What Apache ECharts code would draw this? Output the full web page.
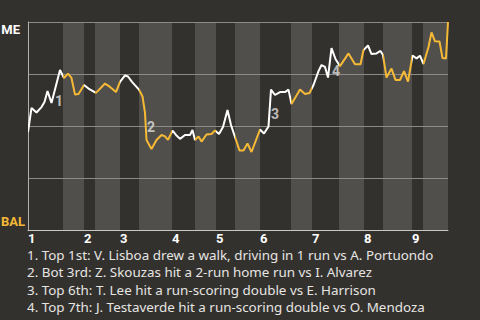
<!DOCTYPE html>
<html>
<head>
<meta charset="utf-8">
<script src="https://cdn.jsdelivr.net/npm/echarts@6/dist/echarts.min.js"></script>
<style>
html,body{margin:0;padding:0;background:#33312e;}
#chart{width:480px;height:320px;}
</style>
</head>
<body>
<div id="chart"></div>
<script>
// Game progress (x) and win probability for ME, percent (y)
var progress = [0,0.7,1.7,2.7,3.3,3.9,4.7,6.4,7.2,8.0,8.7,9.4,10.1,11.2,12.1,13.6,15.4,16.4,17.6,18.4,19.4,20.0,20.8,22.2,22.9,23.4,23.7,24.7,25.7,26.7,27.4,28.0,28.9,29.6,30.4,31.4,32.4,32.9,33.4,34.1,34.7,35.7,36.7,37.4,38.2,39.0,39.9,40.6,41.4,42.3,43.1,43.9,44.7,46.4,47.2,48.1,48.6,49.4,50.4,51.4,52.1,52.7,54.4,55.4,56.3,57.1,58.1,58.7,59.4,60.0,60.7,61.5,62.4,64.1,65.4,66.5,67.1,68.0,68.7,69.7,70.5,71.0,71.7,72.7,73.5,74.4,75.2,76.0,76.9,77.7,78.4,79.1,80.1,80.7,81.4,82.3,82.9,83.6,84];
var winProb = [47.1,58.7,56.5,59.1,61.5,66.8,61.1,76.9,73.1,75.2,73.1,65.1,65.4,69.7,68.0,65.9,70.4,68.8,66.3,71.2,74.3,73.8,71.2,67.5,64.2,56.3,43.3,38.9,43.3,45.7,45.0,43.3,47.8,45.7,43.8,45.7,45.7,48.1,43.3,45.0,42.5,45.9,46.2,47.8,46.2,49.5,57.7,50.5,44.7,38.2,38.2,41.6,37.5,48.3,46.4,49.8,67.5,64.9,66.3,66.3,67.5,60.6,67.5,65.4,65.9,69.7,76.4,79.3,78.4,73.3,87.4,82.2,78.8,84.9,79.7,79.7,86.5,88.7,84.6,84.9,86.1,84.1,73.3,77.6,72.1,72.1,76.4,71.3,83.9,82.5,83.8,79.8,88.0,95.0,90.7,90.6,82.7,82.5,100];
// Half-inning boundaries on the progress axis (top 1, bot 1, top 2, ...)
var halfStarts = [0,7,11.2,13.4,18.4,22.2,28.8,33.4,37.6,41.4,46.4,52.6,56.8,62.2,67.2,71.0,76.8,79.0];
var gameEnd = 84;
var inningLabels = ['1','2','3','4','5','6','7','8','9'];
// Annotated events [progress, winProb, label]
var eventMarks = [[6.2,62.0,'1'],[24.6,49.5,'2'],[49.4,55.8,'3'],[61.6,76.4,'4']];
var notes = [
  '1. Top 1st: V. Lisboa drew a walk, driving in 1 run vs A. Portuondo',
  '2. Bot 3rd: Z. Skouzas hit a 2-run home run vs I. Alvarez',
  '3. Top 6th: T. Lee hit a run-scoring double vs E. Harrison',
  '4. Top 7th: J. Testaverde hit a run-scoring double vs O. Mendoza'
];
var awayTeam = 'ME', homeTeam = 'BAL';

var WHITE = '#ffffff', ORANGE = '#f6b935';
var FONT = 'Noto Sans', LABEL_FONT = 'Roboto';

var line = progress.map(function(x,i){return [x, winProb[i]];});
var bands = [], pieces = [], topStarts = [];
for (var i=0;i<halfStarts.length;i++){
  var s = halfStarts[i], e = (i+1<halfStarts.length)?halfStarts[i+1]:gameEnd;
  var isTop = (i%2===0);
  if (isTop) topStarts.push(s); else bands.push([s,e]);
  pieces.push({gte:s, lt:(i+1<halfStarts.length)?e:gameEnd+1, color: isTop?WHITE:ORANGE});
}

var chart = echarts.init(document.getElementById('chart'), null, {renderer:'svg'});
chart.setOption({
  backgroundColor:'#33312e',
  animation:false,
  textStyle:{fontFamily:FONT},
  grid:{left:28,right:32,top:22,bottom:90,containLabel:false,outerBoundsMode:'none'},
  title:{
    text: notes.join('\n'),
    left:27, top:246.5, padding:0,
    textStyle:{color:'#e6e5e2',fontSize:13.4,fontWeight:'normal',fontFamily:FONT,lineHeight:17.3}
  },
  visualMap:{show:false, type:'piecewise', dimension:0, seriesIndex:1, pieces:pieces},
  xAxis:{
    type:'value', min:0, max:gameEnd, z:2,
    axisLine:{show:true, onZero:false, lineStyle:{color:'#c9c8c5',width:1}},
    axisTick:{show:false},
    splitLine:{show:false},
    axisLabel:{
      customValues: topStarts,
      align:'left', margin:2, lineHeight:12,
      color:'#ffffff', fontWeight:'bold', fontSize:13, fontFamily:LABEL_FONT,
      formatter:function(v){ var k = topStarts.indexOf(v); return k>=0?inningLabels[k]:''; }
    }
  },
  yAxis:{
    type:'value', min:0, max:100, interval:25, z:2,
    axisLine:{show:true, lineStyle:{color:'#b3b2af',width:1}},
    axisTick:{show:false},
    splitLine:{show:true, lineStyle:{color:'#8c8b88',width:1}},
    axisLabel:{
      margin:3,
      formatter:function(v){ if(v===100) return '{me|'+awayTeam+'}'; if(v===0) return '{bal|'+homeTeam+'}'; return ''; },
      rich:{
        me:{color:'#ffffff',fontWeight:'bold',fontSize:13,fontFamily:LABEL_FONT,padding:[14,5,0,0]},
        bal:{color:ORANGE,fontWeight:'bold',fontSize:13,fontFamily:LABEL_FONT,padding:[0,0,18,0]}
      }
    }
  },
  series:[
    {
      type:'custom', z:1, silent:true,
      data: bands,
      renderItem:function(params, api){
        var p0 = api.coord([api.value(0), 100]);
        var p1 = api.coord([api.value(1), 0]);
        return {type:'rect', shape:{x:p0[0], y:p0[1], width:p1[0]-p0[0], height:p1[1]-p0[1]}, style:{fill:'#504f4c'}};
      },
      encode:{x:[0,1]}
    },
    {
      type:'line', z:3, data: line, showSymbol:false, smooth:false,
      lineStyle:{width:2}
    },
    {
      type:'scatter', z:4, symbolSize:0, silent:true,
      data: eventMarks.map(function(m){return {value:[m[0],m[1]], label:{formatter:m[2]}};}),
      label:{show:true, position:'inside', color:'#e2e2e2', fontWeight:'bold', fontSize:14, fontFamily:LABEL_FONT}
    }
  ]
});
</script>
</body>
</html>
